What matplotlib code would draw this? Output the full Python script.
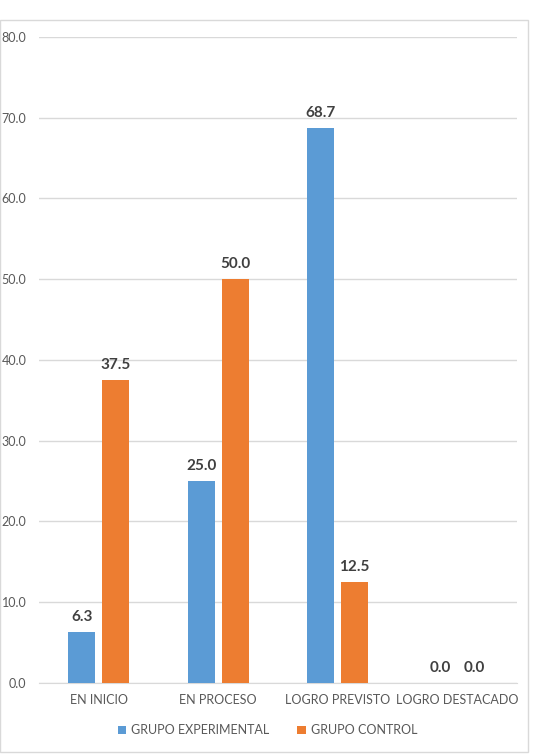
import matplotlib
matplotlib.use("Agg")
import matplotlib.pyplot as plt
import numpy as np
from matplotlib.patches import Rectangle

categories = ["EN INICIO", "EN PROCESO", "LOGRO PREVISTO", "LOGRO DESTACADO"]
experimental = [6.3, 25.0, 68.7, 0.0]
control = [37.5, 50.0, 12.5, 0.0]
series_names = ["GRUPO EXPERIMENTAL", "GRUPO CONTROL"]

blue = "#5B9BD5"
orange = "#ED7D31"

plt.rcParams['font.family'] = ['Lato', 'DejaVu Sans']

fig = plt.figure(figsize=(5.35, 7.56), dpi=100)
ax = fig.add_axes([0.073, 0.0966, 0.893, 0.8545])

x = np.arange(len(categories))
w = 0.226
off = 0.142
b1 = ax.bar(x - off, experimental, w, color=blue, label=series_names[0], zorder=3)
b2 = ax.bar(x + off, control, w, color=orange, label=series_names[1], zorder=3)

for bars in (b1, b2):
    for rect in bars:
        h = rect.get_height()
        ax.annotate(f"{h:.1f}", (rect.get_x() + rect.get_width() / 2, h),
                    xytext=(0, 6), textcoords="offset points",
                    ha="center", va="bottom", fontsize=11, fontweight="bold",
                    color="#404040")

ax.set_xlim(-0.5, 3.5)
ax.set_ylim(0, 80)
ax.set_yticks(np.arange(0, 81, 10))
ax.set_yticklabels([f"{v:.1f}" for v in np.arange(0, 81, 10)])
ax.set_xticks(x)
ax.set_xticklabels(categories)
ax.tick_params(axis="both", length=0, labelsize=9, labelcolor="#595959")
ax.tick_params(axis="x", pad=8)
ax.tick_params(axis="y", pad=9)

ax.grid(axis="y", color="#D9D9D9", linewidth=1, zorder=0)
for s in ["top", "right", "left"]:
    ax.spines[s].set_visible(False)
ax.spines["bottom"].set_color("#D9D9D9")

fig.legend(handles=[b1, b2], loc="center", bbox_to_anchor=(0.5, 0.034),
           ncol=2, frameon=False, fontsize=9, labelcolor="#595959",
           handlelength=0.7, handleheight=0.7, handletextpad=0.4,
           columnspacing=2.2)

fig.patches.append(Rectangle((0.0, 0.005), 0.987, 0.968, transform=fig.transFigure,
                             fill=False, edgecolor="#D9D9D9", linewidth=1))

fig.savefig("out.png", dpi=100)
